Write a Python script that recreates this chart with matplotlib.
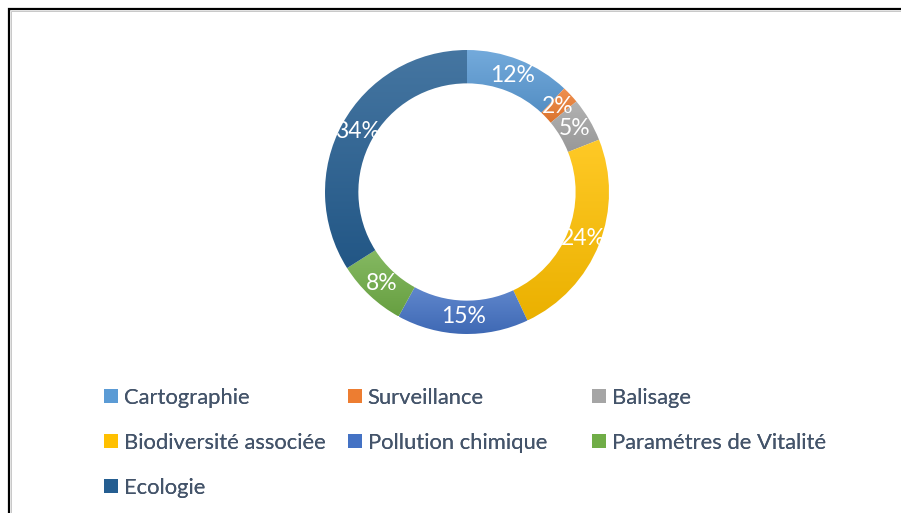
import numpy as np
import matplotlib
matplotlib.use("Agg")
import matplotlib.pyplot as plt
from matplotlib.patches import Rectangle, Patch
from matplotlib.colors import to_rgb

# data
categories = ["Cartographie", "Surveillance", "Balisage", "Biodiversité associée",
              "Pollution chimique", "Paramétres de Vitalité", "Ecologie"]
values = [12, 2, 5, 24, 15, 8, 34]
colors = ["#5B9BD5", "#ED7D31", "#A5A5A5", "#FFC000", "#4472C4", "#70AD47", "#255E91"]

plt.rcParams['font.family'] = ['Lato', 'DejaVu Sans']
W, H = 901, 513
fig = plt.figure(figsize=(W / 100, H / 100), dpi=100)

# donut axes, centre (467,192) px, radius 142 px
cx, cy, R = 467, 192, 142
ax = fig.add_axes([(cx - R) / W, (H - cy - R) / H, 2 * R / W, 2 * R / H])

wedges, texts, autotexts = ax.pie(
    values, startangle=90, counterclock=False, radius=1,
    colors=colors, autopct=lambda p: f"{p:.0f}%", pctdistance=0.88,
    wedgeprops=dict(width=0.235, linewidth=0),
    textprops=dict(color="white", fontsize=16.5))


def mix(c, other, t):
    c = np.array(to_rgb(c))
    return c + (np.array(other) - c) * t


# vertical gradient on each slice (lighter at top, darker at bottom)
for w, c in zip(wedges, colors):
    top = mix(c, (1, 1, 1), 0.15)
    bot = mix(c, (0, 0, 0), 0.08)
    t = np.linspace(0, 1, 256)[:, None, None]
    grad = top + (bot - top) * t
    ext = w.get_path().get_extents()
    im = ax.imshow(grad, extent=[ext.x0, ext.x1, ext.y0, ext.y1], origin="upper",
                   interpolation="bilinear", zorder=1)
    im.set_clip_path(w)
    w.set_facecolor("none")

ax.set_xlim(-1, 1)
ax.set_ylim(-1, 1)
ax.set_aspect("equal")
ax.axis("off")

# legend, three columns like Excel
handles = [Patch(facecolor=c, edgecolor="none") for c in colors]
col_x = [104, 348, 592]
for j in range(3):
    idx = list(range(j, len(categories), 3))
    leg = fig.legend([handles[i] for i in idx], [categories[i] for i in idx],
                     loc="upper left", bbox_to_anchor=(col_x[j] / W, 1 - 387.5 / H),
                     frameon=False, fontsize=15.8, labelcolor="#44546A",
                     borderpad=0, borderaxespad=0, handlelength=0.62,
                     handleheight=0.62, handletextpad=0.28, labelspacing=1.15)
    fig.add_artist(leg)

# chart border (runs off the right and bottom edges)
fig.add_artist(Rectangle((9 / W, -0.1), 1.2, 1.1 - 9 / H, transform=fig.transFigure,
                         fill=False, edgecolor="black", linewidth=1.6))
fig.add_artist(Rectangle((11 / W, -0.1), 1.2, 1.1 - 11 / H, transform=fig.transFigure,
                         fill=False, edgecolor="#c8c8c8", linewidth=0.7))

fig.savefig("out.png", dpi=100)
